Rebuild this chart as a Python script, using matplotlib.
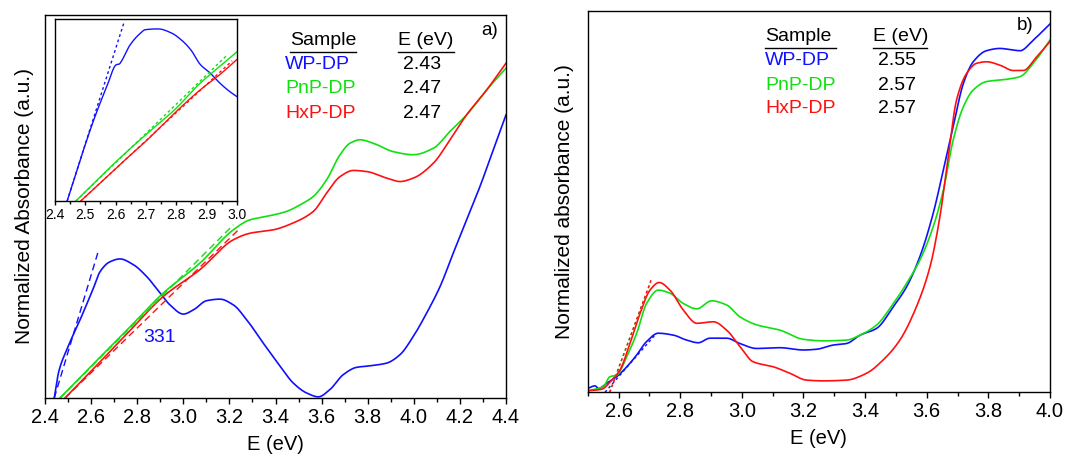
import numpy as np
import matplotlib.pyplot as plt
from matplotlib.ticker import MultipleLocator

plt.rcParams['font.family'] = ['Liberation Sans', 'DejaVu Sans']

BLUE = '#1010ff'
GREEN = '#10e010'
RED = '#ff1010'

samples = ['WP-DP', 'PnP-DP', 'HxP-DP']
gap_a = ['2.43', '2.47', '2.47']
gap_b = ['2.55', '2.57', '2.57']

# panel a) main spectra
a_wp_e = [2.44, 2.46, 2.494, 2.552, 2.61, 2.639, 2.68, 2.725, 2.783, 2.841, 2.899, 2.942, 3.0, 3.044,
          3.101, 3.159, 3.217, 3.275, 3.347, 3.42, 3.477, 3.535, 3.586, 3.636, 3.694, 3.752, 3.81,
          3.882, 3.94, 3.998, 4.056, 4.114, 4.171, 4.229, 4.287, 4.345, 4.4]
a_wp_y = [0.0, 0.07, 0.126, 0.204, 0.287, 0.33, 0.355, 0.363, 0.348, 0.317, 0.274, 0.243, 0.219, 0.23,
          0.254, 0.258, 0.243, 0.204, 0.143, 0.083, 0.039, 0.013, 0.003, 0.022, 0.061, 0.08, 0.084,
          0.091, 0.113, 0.161, 0.222, 0.291, 0.378, 0.465, 0.552, 0.648, 0.739]
a_pnp_e = [2.465, 2.6, 2.75, 2.913, 3.072, 3.217, 3.289, 3.362, 3.448, 3.506, 3.564, 3.622, 3.68,
           3.723, 3.767, 3.824, 3.911, 3.998, 4.085, 4.157, 4.229, 4.316, 4.4]
a_pnp_y = [0.0, 0.083, 0.174, 0.274, 0.352, 0.439, 0.465, 0.474, 0.487, 0.504, 0.526, 0.57,
           0.635, 0.665, 0.674, 0.665, 0.643, 0.635, 0.652, 0.696, 0.739, 0.804, 0.861]
a_hxp_e = [2.487, 2.6, 2.75, 2.913, 3.072, 3.217, 3.289, 3.391, 3.477, 3.564, 3.622, 3.68, 3.738,
           3.796, 3.882, 3.94, 3.998, 4.085, 4.157, 4.229, 4.316, 4.4]
a_hxp_y = [0.0, 0.07, 0.164, 0.265, 0.335, 0.413, 0.43, 0.439, 0.457, 0.487, 0.535, 0.578, 0.594,
           0.591, 0.574, 0.565, 0.574, 0.613, 0.674, 0.739, 0.804, 0.874]

# tangent lines (Tauc fits)
a_fit_e = [[2.44, 2.631], [2.465, 3.217], [2.487, 3.239]]
a_fit_y = [[0.0, 0.383], [0.0, 0.452], [0.0, 0.439]]

# panel a) inset
in_wp_e = [2.44, 2.485, 2.528, 2.571, 2.603, 2.612, 2.619, 2.645, 2.677, 2.699, 2.741, 2.784, 2.816,
           2.848, 2.88, 2.912, 2.944, 2.976, 3.0]
in_wp_y = [0.0, 0.235, 0.446, 0.629, 0.749, 0.752, 0.767, 0.85, 0.914, 0.941, 0.945, 0.923, 0.886,
           0.831, 0.749, 0.703, 0.648, 0.602, 0.574]
in_pnp_e = [2.469, 2.608, 2.699, 2.795, 2.88, 2.944, 3.0]
in_pnp_y = [0.0, 0.226, 0.363, 0.501, 0.648, 0.739, 0.818]
in_hxp_e = [2.485, 2.613, 2.699, 2.795, 2.88, 2.944, 3.0]
in_hxp_y = [0.0, 0.198, 0.327, 0.483, 0.611, 0.694, 0.776]
in_fit_e = [[2.44, 2.629], [2.469, 2.97], [2.485, 2.985]]
in_fit_y = [[0.0, 0.987], [0.0, 0.804], [0.0, 0.77]]

# panel b)
b_wp_e = [2.5, 2.524, 2.535, 2.562, 2.594, 2.627, 2.659, 2.691, 2.729, 2.778, 2.821, 2.859, 2.897,
          2.951, 2.994, 3.048, 3.124, 3.2, 3.243, 3.297, 3.34, 3.384, 3.438, 3.492, 3.535, 3.578,
          3.621, 3.654, 3.686, 3.719, 3.751, 3.794, 3.838, 3.87, 3.903, 3.946, 4.0]
b_wp_y = [0.01, 0.017, 0.01, 0.024, 0.041, 0.067, 0.098, 0.133, 0.155, 0.15, 0.137, 0.13, 0.142,
          0.142, 0.128, 0.115, 0.117, 0.111, 0.113, 0.124, 0.128, 0.15, 0.168, 0.225, 0.277, 0.356,
          0.469, 0.583, 0.697, 0.81, 0.867, 0.896, 0.902, 0.899, 0.896, 0.924, 0.966]
b_pnp_e = [2.5, 2.551, 2.572, 2.594, 2.627, 2.659, 2.691, 2.729, 2.767, 2.81, 2.854, 2.902, 2.951,
           2.994, 3.048, 3.124, 3.2, 3.265, 3.34, 3.384, 3.438, 3.492, 3.535, 3.578, 3.621, 3.654,
           3.686, 3.719, 3.751, 3.794, 3.859, 3.903, 3.946, 4.0]
b_pnp_y = [0.004, 0.015, 0.041, 0.045, 0.094, 0.155, 0.233, 0.268, 0.26, 0.233, 0.219, 0.24, 0.229,
           0.198, 0.177, 0.163, 0.139, 0.135, 0.137, 0.15, 0.177, 0.233, 0.286, 0.347, 0.434, 0.53,
           0.662, 0.749, 0.793, 0.815, 0.821, 0.828, 0.863, 0.924]
b_hxp_e = [2.5, 2.545, 2.578, 2.605, 2.637, 2.67, 2.702, 2.732, 2.767, 2.81, 2.854, 2.908, 2.951,
           2.994, 3.037, 3.102, 3.156, 3.21, 3.265, 3.34, 3.405, 3.459, 3.513, 3.567, 3.611, 3.643,
           3.67, 3.697, 3.73, 3.762, 3.794, 3.838, 3.881, 3.913, 3.957, 4.0]
b_hxp_y = [0.004, 0.008, 0.032, 0.059, 0.128, 0.207, 0.268, 0.288, 0.268, 0.216, 0.181, 0.185, 0.163,
           0.12, 0.08, 0.067, 0.05, 0.032, 0.03, 0.032, 0.05, 0.085, 0.137, 0.225, 0.33, 0.461,
           0.618, 0.767, 0.837, 0.863, 0.867, 0.858, 0.844, 0.844, 0.88, 0.92]
b_fit_e = [[2.556, 2.718], [2.57, 2.705], [2.572, 2.708]]
b_fit_y = [[0.0, 0.15], [0.0, 0.29], [0.0, 0.3]]

colors = [BLUE, GREEN, RED]


def smooth(x, y, n=500):
    # monotone cubic (Fritsch-Carlson) through the read-off points, no overshoot
    x = np.asarray(x, float)
    y = np.asarray(y, float)
    h = np.diff(x)
    d = np.diff(y) / h
    m = np.zeros_like(y)
    m[0], m[-1] = d[0], d[-1]
    for k in range(1, len(x) - 1):
        if d[k - 1] * d[k] > 0:
            w1 = 2 * h[k] + h[k - 1]
            w2 = h[k] + 2 * h[k - 1]
            m[k] = (w1 + w2) / (w1 / d[k - 1] + w2 / d[k])
    xs = np.linspace(x[0], x[-1], n)
    idx = np.clip(np.searchsorted(x, xs) - 1, 0, len(x) - 2)
    hh = h[idx]
    t = (xs - x[idx]) / hh
    ys = ((2 * t**3 - 3 * t**2 + 1) * y[idx] + (t**3 - 2 * t**2 + t) * hh * m[idx]
          + (-2 * t**3 + 3 * t**2) * y[idx + 1] + (t**3 - t**2) * hh * m[idx + 1])
    return xs, ys


def style_axis(ax, fs):
    ax.tick_params(axis='x', direction='out', length=4, width=1, labelsize=fs, pad=3)
    ax.tick_params(axis='x', which='minor', direction='out', length=3, width=1)
    ax.set_yticks([])
    for s in ax.spines.values():
        s.set_linewidth(1.0)


fig = plt.figure(figsize=(10.75, 4.61), dpi=100)

# ---- panel a
ax1 = fig.add_axes([0.0419, 0.1367, 0.4288, 0.831])
for e, y, c in zip([a_wp_e, a_pnp_e, a_hxp_e], [a_wp_y, a_pnp_y, a_hxp_y], colors):
    ax1.plot(*smooth(e, y), color=c, lw=1.2)
for e, y, c in zip(a_fit_e, a_fit_y, colors):
    ax1.plot(e, y, color=c, lw=1.0, ls=(0, (5, 3)))
ax1.set_xlim(2.4, 4.4)
ax1.set_ylim(0, 1)
ax1.xaxis.set_major_locator(MultipleLocator(0.2))
ax1.xaxis.set_minor_locator(MultipleLocator(0.1))
style_axis(ax1, 14.5)
ax1.set_xlabel('E (eV)', fontsize=14.5, labelpad=6)
ax1.set_ylabel('Normalized Absorbance (a.u.)', fontsize=15, labelpad=8)
ax1.text(2.896, 0.157, '331', color=BLUE, fontsize=14, ha='center', va='center')
ax1.text(0.965, 0.96, 'a)', transform=ax1.transAxes, fontsize=13.5, ha='center', va='center')

rows_y = [0.871, 0.809, 0.743]
ax1.text(0.531, 0.933, 'Sample', transform=ax1.transAxes, fontsize=14, va='center')
ax1.text(0.766, 0.933, 'E (eV)', transform=ax1.transAxes, fontsize=14, va='center')
ax1.plot([0.531, 0.675], [0.903, 0.903], transform=ax1.transAxes, color='k', lw=1)
ax1.plot([0.766, 0.888], [0.903, 0.903], transform=ax1.transAxes, color='k', lw=1)
for s, v, c, ry in zip(samples, gap_a, colors, rows_y):
    ax1.text(0.521, ry, s, color=c, transform=ax1.transAxes, fontsize=14, va='center')
    ax1.text(0.777, ry, v, transform=ax1.transAxes, fontsize=14, va='center')

# inset
axi = fig.add_axes([0.0512, 0.564, 0.169, 0.395])
for e, y, c in zip([in_wp_e, in_pnp_e, in_hxp_e], [in_wp_y, in_pnp_y, in_hxp_y], colors):
    axi.plot(*smooth(e, y), color=c, lw=1.0)
for e, y, c in zip(in_fit_e, in_fit_y, colors):
    axi.plot(e, y, color=c, lw=1.0, ls=(0, (2, 2)))
axi.set_xlim(2.4, 3.0)
axi.set_ylim(0, 1)
axi.xaxis.set_major_locator(MultipleLocator(0.1))
axi.xaxis.set_minor_locator(MultipleLocator(0.05))
style_axis(axi, 10)
axi.tick_params(axis='x', length=3, pad=2)
axi.tick_params(axis='x', which='minor', length=2)

# ---- panel b
ax2 = fig.add_axes([0.5467, 0.149, 0.43, 0.827])
for e, y, c in zip([b_wp_e, b_pnp_e, b_hxp_e], [b_wp_y, b_pnp_y, b_hxp_y], colors):
    ax2.plot(*smooth(e, y), color=c, lw=1.2)
for e, y, c in zip(b_fit_e, b_fit_y, colors):
    ax2.plot(e, y, color=c, lw=1.0, ls=(0, (2, 2)))
ax2.set_xlim(2.5, 4.0)
ax2.set_ylim(0, 1)
ax2.xaxis.set_major_locator(MultipleLocator(0.2))
ax2.xaxis.set_minor_locator(MultipleLocator(0.1))
style_axis(ax2, 14.5)
ax2.set_xlabel('E (eV)', fontsize=14.5, labelpad=6)
ax2.set_ylabel('Normalized absorbance (a.u.)', fontsize=15, labelpad=10)
ax2.text(0.946, 0.961, 'b)', transform=ax2.transAxes, fontsize=13.5, ha='center', va='center')

rows_b = [0.871, 0.806, 0.745]
ax2.text(0.384, 0.934, 'Sample', transform=ax2.transAxes, fontsize=14, va='center')
ax2.text(0.618, 0.934, 'E (eV)', transform=ax2.transAxes, fontsize=14, va='center')
ax2.plot([0.384, 0.537], [0.904, 0.904], transform=ax2.transAxes, color='k', lw=1)
ax2.plot([0.618, 0.735], [0.904, 0.904], transform=ax2.transAxes, color='k', lw=1)
for s, v, c, ry in zip(samples, gap_b, colors, rows_b):
    ax2.text(0.384, ry, s, color=c, transform=ax2.transAxes, fontsize=14, va='center')
    ax2.text(0.629, ry, v, transform=ax2.transAxes, fontsize=14, va='center')

fig.savefig('out.png', dpi=100)
